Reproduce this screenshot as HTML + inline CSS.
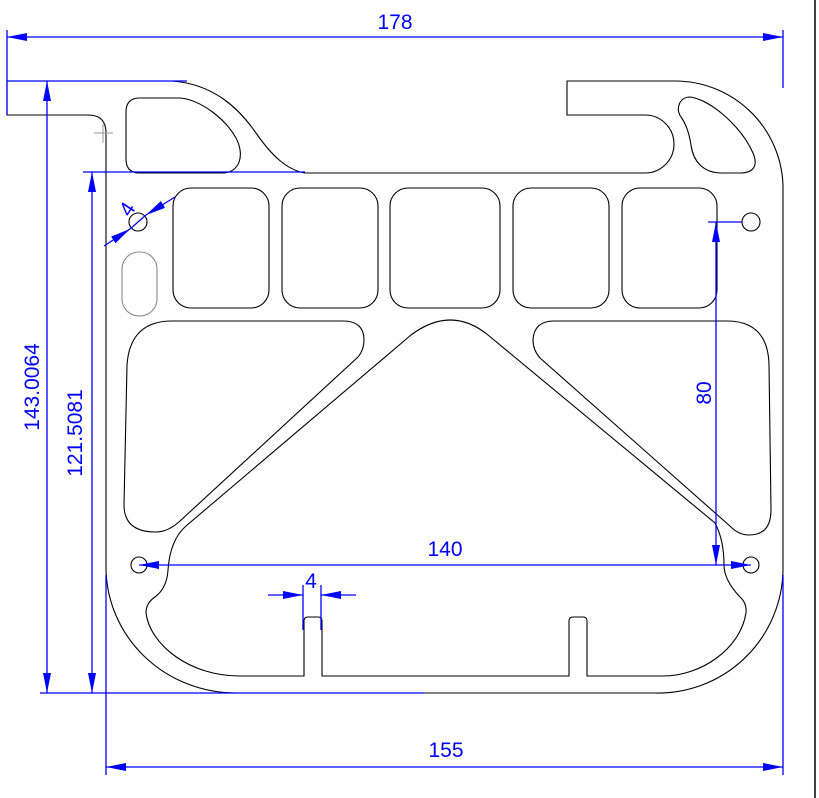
<!DOCTYPE html>
<html><head><meta charset="utf-8"><style>
html,body{margin:0;padding:0;background:#fff}
svg{display:block}
text{font-family:"Liberation Sans Narrow","Liberation Sans",sans-serif;fill:#0000ff;font-size:21px}
</style></head><body>
<svg width="819" height="798" viewBox="0 0 819 798" xmlns="http://www.w3.org/2000/svg">
<defs>
<marker id="a" viewBox="0 0 20 8" refX="20" refY="4" markerWidth="20" markerHeight="8" markerUnits="userSpaceOnUse" orient="auto-start-reverse"><path d="M0 0 L20 4 L0 8 Z" fill="#0000ff"/></marker>
</defs>
<!-- right border -->
<line x1="815" y1="0" x2="815" y2="798" stroke="#000" stroke-width="1.5"/>

<g fill="none" stroke="#000" stroke-width="1.1">
<!-- outer profile -->
<path d="M7 81 L172 81 C215 84 240 110 256 133 C272 156 287 170 305 173 L645 173 A29 29 0 0 0 645 115 L567 115 L567 81 L675 81 A108 108 0 0 1 783 185 L783 570 A125 125 0 0 1 655 693 L236 693 A130 126 0 0 1 106 567 L106 133 Q106 115 88 115 L7 115 Z"/>
<!-- top-left pocket -->
<path d="M140 98 L180 98 C202 100 226 120 236 138 C245 155 240 173 222 173 L140 173 Q126 173 126 159 L126 112 Q126 98 140 98 Z"/>
<!-- top-right kidney -->
<path d="M690 97 C712 100 742 128 753 153 C759 167 752 173 740 173 L722 173 C702 173 693 160 691 145 C689 132 686 124 681 117 C675 108 680 97 690 97 Z"/>
<!-- rect row -->
<rect x="173" y="188" width="96" height="120" rx="18"/>
<rect x="282" y="188" width="96" height="120" rx="18"/>
<rect x="390" y="188" width="110" height="120" rx="18"/>
<rect x="513" y="188" width="96" height="120" rx="18"/>
<rect x="622" y="188" width="95" height="120" rx="18"/>
<!-- small holes -->
<circle cx="138" cy="222" r="9"/>
<circle cx="751" cy="222" r="9"/>
<circle cx="139" cy="565" r="8"/>
<circle cx="751" cy="565" r="8"/>
<rect x="122" y="252" width="35" height="64" rx="17" stroke="#888"/>
<!-- left middle pocket -->
<path d="M172 321 L343 321 Q364 321 364 340 Q364 350 358 357 L180 521 Q168 532 156 532 Q124 532 124 505 L127 365 Q130 321 172 321 Z"/>
<!-- right middle pocket -->
<path d="M554 321 L727 321 Q768 321 769 365 L771 510 Q771 535 749 535 Q739 535 731 527 L540 358 Q533 350 533 340 Q534 321 554 321 Z"/>
<!-- center big pocket -->
<path d="M411 335 Q451 305 488 335 L715 523 Q724 540 724 565 Q724 580 740 597 Q747 603 746 613 C740 650 700 676 663 676 L587 676 L587 621 Q587 617 583 617 L573 617 Q569 617 569 621 L569 676 L322 676 L322 621 Q322 617 318 617 L308 617 Q304 617 304 621 L304 676 L239 676 C190 676 150 645 146 613 Q146 603 155 597 Q167 588 168 570 Q170 540 186 526 Z"/>
</g>
<!-- crosshair -->
<g stroke="#999" stroke-width="1"><line x1="94" y1="133" x2="113" y2="133"/><line x1="103" y1="124" x2="103" y2="143"/></g>

<g stroke="#0000ff" stroke-width="1.3" fill="none">
<!-- 178 -->
<line x1="7" y1="30" x2="7" y2="115"/>
<line x1="783" y1="30" x2="783" y2="88"/>
<line x1="7" y1="37" x2="783" y2="37" marker-start="url(#a)" marker-end="url(#a)"/>
<!-- 143 -->
<line x1="7" y1="81" x2="187" y2="81"/>
<line x1="40" y1="693" x2="424" y2="693"/>
<line x1="47" y1="81" x2="47" y2="693" marker-start="url(#a)" marker-end="url(#a)"/>
<!-- 121 -->
<line x1="83" y1="172" x2="305" y2="172"/>
<line x1="92" y1="172" x2="92" y2="693" marker-start="url(#a)" marker-end="url(#a)"/>
<!-- 155 -->
<line x1="106" y1="575" x2="106" y2="775"/>
<line x1="783" y1="575" x2="783" y2="775"/>
<line x1="106" y1="767" x2="783" y2="767" marker-start="url(#a)" marker-end="url(#a)"/>
<!-- 140 -->
<line x1="139" y1="565" x2="751" y2="565" marker-start="url(#a)" marker-end="url(#a)"/>
<!-- 80 -->
<line x1="708" y1="222" x2="742" y2="222"/>
<line x1="716" y1="222" x2="716" y2="565" marker-start="url(#a)" marker-end="url(#a)"/>
<!-- 4 slot -->
<line x1="303" y1="585" x2="303" y2="630"/>
<line x1="321" y1="585" x2="321" y2="630"/>
<line x1="268" y1="595" x2="303" y2="595" marker-end="url(#a)"/>
<line x1="356" y1="595" x2="321" y2="595" marker-end="url(#a)"/>
<!-- 4 diameter -->
<line x1="104" y1="246" x2="130" y2="229" marker-end="url(#a)"/>
<line x1="175" y1="197" x2="146" y2="215" marker-end="url(#a)"/>
<line x1="130" y1="229" x2="146" y2="215"/>
</g>

<text x="395" y="29" text-anchor="middle">178</text>
<text x="446" y="757" text-anchor="middle">155</text>
<text x="445" y="556" text-anchor="middle">140</text>
<text x="311" y="588" text-anchor="middle" font-size="18">4</text>
<text transform="translate(711,393) rotate(-90)" text-anchor="middle">80</text>
<text transform="translate(39,387) rotate(-90)" text-anchor="middle">143.0064</text>
<text transform="translate(82,433) rotate(-90)" text-anchor="middle">121.5081</text>
<text transform="translate(133,213) rotate(-57)" text-anchor="middle" font-size="16">4</text>
</svg>
</body></html>
